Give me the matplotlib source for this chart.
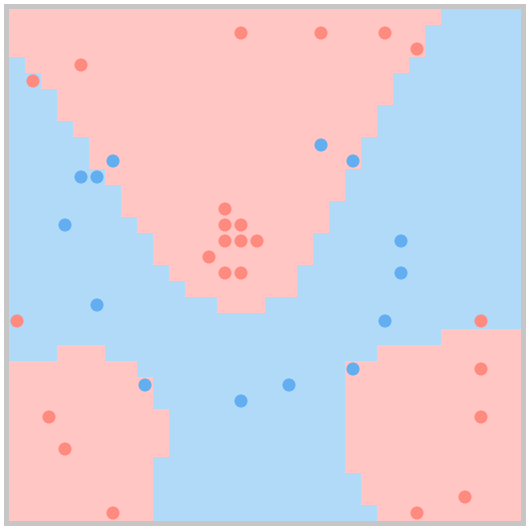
import numpy as np
import matplotlib
matplotlib.use("Agg")
import matplotlib.pyplot as plt
from matplotlib.colors import ListedColormap

# decision map, 32 x 32 cells, one string per row from the top: r = red class, b = blue class
grid_rows = [
    "rrrrrrrrrrrrrrrrrrrrrrrrrrrbbbbb",
    "rrrrrrrrrrrrrrrrrrrrrrrrrrbbbbbb",
    "rrrrrrrrrrrrrrrrrrrrrrrrrrbbbbbb",
    "brrrrrrrrrrrrrrrrrrrrrrrrbbbbbbb",
    "bbrrrrrrrrrrrrrrrrrrrrrrbbbbbbbb",
    "bbbrrrrrrrrrrrrrrrrrrrrrbbbbbbbb",
    "bbbrrrrrrrrrrrrrrrrrrrrbbbbbbbbb",
    "bbbbrrrrrrrrrrrrrrrrrrrbbbbbbbbb",
    "bbbbbrrrrrrrrrrrrrrrrrbbbbbbbbbb",
    "bbbbbrrrrrrrrrrrrrrrrrbbbbbbbbbb",
    "bbbbbbrrrrrrrrrrrrrrrbbbbbbbbbbb",
    "bbbbbbbrrrrrrrrrrrrrrbbbbbbbbbbb",
    "bbbbbbbrrrrrrrrrrrrrbbbbbbbbbbbb",
    "bbbbbbbbrrrrrrrrrrrrbbbbbbbbbbbb",
    "bbbbbbbbbrrrrrrrrrrbbbbbbbbbbbbb",
    "bbbbbbbbbrrrrrrrrrrbbbbbbbbbbbbb",
    "bbbbbbbbbbrrrrrrrrbbbbbbbbbbbbbb",
    "bbbbbbbbbbbrrrrrrrbbbbbbbbbbbbbb",
    "bbbbbbbbbbbbbrrrbbbbbbbbbbbbbbbb",
    "bbbbbbbbbbbbbbbbbbbbbbbbbbbbbbbb",
    "bbbbbbbbbbbbbbbbbbbbbbbbbbbrrrrr",
    "bbbrrrbbbbbbbbbbbbbbbbbrrrrrrrrr",
    "rrrrrrrrbbbbbbbbbbbbbrrrrrrrrrrr",
    "rrrrrrrrrbbbbbbbbbbbbrrrrrrrrrrr",
    "rrrrrrrrrbbbbbbbbbbbbrrrrrrrrrrr",
    "rrrrrrrrrrbbbbbbbbbbbrrrrrrrrrrr",
    "rrrrrrrrrrbbbbbbbbbbbrrrrrrrrrrr",
    "rrrrrrrrrrbbbbbbbbbbbrrrrrrrrrrr",
    "rrrrrrrrrbbbbbbbbbbbbrrrrrrrrrrr",
    "rrrrrrrrrbbbbbbbbbbbbbrrrrrrrrrr",
    "rrrrrrrrrbbbbbbbbbbbbbrrrrrrrrrr",
    "rrrrrrrrrbbbbbbbbbbbbbbrrrrrrrrr",
]

# sample points, cell column / row (row counted from top)
red_x = [14, 19, 23, 25, 4, 1, 13, 13, 14, 13, 14, 15, 12, 13, 14, 0, 29, 29, 29, 28, 25, 2, 3, 6]
red_y = [1, 1, 1, 2, 3, 4, 12, 13, 13, 14, 14, 14, 15, 16, 16, 19, 19, 22, 25, 30, 31, 25, 27, 31]
blue_x = [6, 4, 5, 19, 21, 3, 5, 24, 24, 23, 8, 14, 17, 21]
blue_y = [9, 10, 10, 8, 9, 13, 18, 14, 16, 19, 23, 24, 23, 22]

bg_red = "#ffc6c3"
bg_blue = "#b1d9f8"
pt_red = "#ff8a80"
pt_blue = "#62aef0"

grid = np.array([[1 if c == "r" else 0 for c in row] for row in grid_rows])
n = grid.shape[0]

fig = plt.figure(figsize=(5.3, 5.3), dpi=100)
fig.patch.set_facecolor("white")

# grey frame round the plot
frame = fig.add_axes([4 / 530, 4 / 530, 522 / 530, 522 / 530], zorder=0)
frame.set_facecolor("#c6c6c6")
frame.set_xticks([])
frame.set_yticks([])
for s in frame.spines.values():
    s.set_visible(False)

ax = fig.add_axes([9 / 530, 9 / 530, 512 / 530, 512 / 530], zorder=1)
ax.imshow(grid, cmap=ListedColormap([bg_blue, bg_red]), vmin=0, vmax=1,
          extent=[0, n, n, 0], interpolation="nearest")
ax.scatter(np.array(red_x) + 0.5, np.array(red_y) + 0.5, s=88, color=pt_red,
           edgecolors="none", zorder=3)
ax.scatter(np.array(blue_x) + 0.5, np.array(blue_y) + 0.5, s=88, color=pt_blue,
           edgecolors="none", zorder=3)
ax.set_xlim(0, n)
ax.set_ylim(n, 0)
ax.axis("off")

fig.savefig("out.png", dpi=100)
